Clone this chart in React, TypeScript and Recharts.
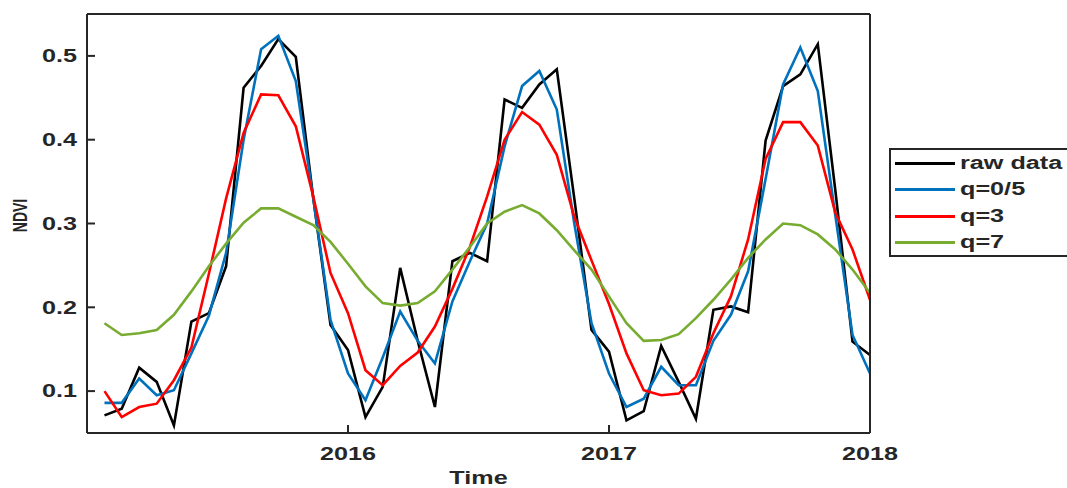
import { LineChart, Line, XAxis, YAxis, Label } from 'recharts'

// time in decimal years, one sample every 1/15 year
const times = [
  2015.067, 2015.133, 2015.2, 2015.267, 2015.333, 2015.4, 2015.467, 2015.533, 2015.6, 2015.667,
  2015.733, 2015.8, 2015.867, 2015.933, 2016.0, 2016.067, 2016.133, 2016.2, 2016.267, 2016.333,
  2016.4, 2016.467, 2016.533, 2016.6, 2016.667, 2016.733, 2016.8, 2016.867, 2016.933, 2017.0,
  2017.067, 2017.133, 2017.2, 2017.267, 2017.333, 2017.4, 2017.467, 2017.533, 2017.6, 2017.667,
  2017.733, 2017.8, 2017.867, 2017.933, 2018.0,
]

const rawData = [
  0.071, 0.079, 0.128, 0.111, 0.059, 0.183, 0.193, 0.249, 0.462, 0.488,
  0.52, 0.499, 0.33, 0.179, 0.149, 0.069, 0.105, 0.247, 0.16, 0.081,
  0.255, 0.265, 0.255, 0.448, 0.438, 0.466, 0.484, 0.33, 0.173, 0.147,
  0.065, 0.076, 0.154, 0.111, 0.067, 0.197, 0.201, 0.194, 0.399, 0.464,
  0.478, 0.514, 0.34, 0.159, 0.143,
]

const q05 = [
  0.086, 0.086, 0.115, 0.095, 0.101, 0.145, 0.19, 0.265, 0.4, 0.508,
  0.524, 0.47, 0.33, 0.185, 0.121, 0.089, 0.14, 0.195, 0.16, 0.133,
  0.207, 0.255, 0.3, 0.392, 0.464, 0.482, 0.436, 0.3, 0.181, 0.121,
  0.081, 0.091, 0.129, 0.107, 0.107, 0.16, 0.191, 0.243, 0.353, 0.466,
  0.51, 0.458, 0.31, 0.167, 0.121,
]

const q3 = [
  0.1, 0.069, 0.081, 0.085, 0.113, 0.152, 0.24, 0.33, 0.408, 0.454,
  0.453, 0.416, 0.332, 0.241, 0.193, 0.125, 0.107, 0.13, 0.146, 0.177,
  0.222, 0.272, 0.332, 0.4, 0.433, 0.418, 0.382, 0.308, 0.256, 0.204,
  0.145, 0.101, 0.095, 0.097, 0.117, 0.169, 0.213, 0.281, 0.377, 0.421,
  0.421, 0.393, 0.313, 0.269, 0.209,
]

const q7 = [
  0.181, 0.167, 0.169, 0.173, 0.191, 0.219, 0.249, 0.276, 0.301, 0.318,
  0.318, 0.308, 0.298, 0.278, 0.252, 0.225, 0.205, 0.202, 0.205, 0.219,
  0.245, 0.272, 0.3, 0.314, 0.322, 0.312, 0.292, 0.268, 0.245, 0.213,
  0.181, 0.16, 0.161, 0.168, 0.187, 0.209, 0.233, 0.259, 0.281, 0.3,
  0.298, 0.287, 0.269, 0.245, 0.217,
]

const xTicks = [2016, 2017, 2018]
const yTicks = [0.1, 0.2, 0.3, 0.4, 0.5]

const series = [
  { key: 'raw', name: 'raw data', color: '#000000' },
  { key: 'q05', name: 'q=0/5', color: '#0072BD' },
  { key: 'q3', name: 'q=3', color: '#FF0000' },
  { key: 'q7', name: 'q=7', color: '#77AC30' },
]

const data = times.map((t, i) => ({ t, raw: rawData[i], q05: q05[i], q3: q3[i], q7: q7[i] }))

const FONT = '"Liberation Sans", Arial, Helvetica, sans-serif'
const AXIS = '#262626'
const STRETCH = 1.4

function YTick(props: any) {
  const { x, y, payload } = props
  return (
    <text transform={`translate(${x},${y}) scale(${STRETCH},1)`} textAnchor="end" dy="0.35em"
      fontSize={18} fontWeight="bold" fill={AXIS} fontFamily={FONT}>
      {payload.value}
    </text>
  )
}

function XTick(props: any) {
  const { x, y, payload } = props
  return (
    <text transform={`translate(${x},${y}) scale(${STRETCH},1)`} textAnchor="middle" dy="0.72em"
      fontSize={18} fontWeight="bold" fill={AXIS} fontFamily={FONT}>
      {payload.value}
    </text>
  )
}

function TimeLabel(props: any) {
  const vb = props.viewBox
  return (
    <text transform={`translate(${vb.x + vb.width / 2},${vb.y + 51}) scale(${STRETCH},1)`} textAnchor="middle"
      fontSize={18} fontWeight="bold" fill={AXIS} fontFamily={FONT}>
      Time
    </text>
  )
}

function NdviLabel(props: any) {
  const vb = props.viewBox
  return (
    <text transform={`translate(27,${vb.y + vb.height / 2 - 8}) scale(${STRETCH},1) rotate(-90)`} textAnchor="middle"
      fontSize={14} fontWeight="bold" fill={AXIS} fontFamily={FONT}>
      NDVI
    </text>
  )
}

function LegendBox() {
  return (
    <div style={{
      position: 'absolute', left: 889, top: 148, width: 190, height: 105,
      border: `2px solid ${AXIS}`, background: '#fff', fontFamily: FONT,
    }}>
      {series.map((s) => (
        <div key={s.key} style={{ position: 'relative', height: 26.4 }}>
          <div style={{ position: 'absolute', left: 4, top: 12, width: 60, height: 3, background: s.color }} />
          <span style={{
            position: 'absolute', left: 69, top: 0, lineHeight: '26.4px', fontSize: 18, fontWeight: 'bold',
            color: AXIS, whiteSpace: 'nowrap', transform: `scaleX(${STRETCH})`, transformOrigin: 'left center',
          }}>{s.name}</span>
        </div>
      ))}
    </div>
  )
}

export default function App() {
  return (
    <div style={{ position: 'fixed', left: 0, top: 0, width: 1067, height: 488, background: '#fff', overflow: 'hidden' }}>
      <LineChart width={1067} height={488} data={data} margin={{ top: 13, right: 196, bottom: 0, left: 0 }}>
        <XAxis dataKey="t" type="number" domain={[2015, 2018]} ticks={xTicks} height={55}
          axisLine={{ stroke: AXIS, strokeWidth: 2 }} tickLine={{ stroke: AXIS, strokeWidth: 2 }}
          tickSize={-8} tickMargin={22} tick={<XTick />}>
          <Label content={<TimeLabel />} />
        </XAxis>
        <XAxis xAxisId="top" orientation="top" dataKey="t" type="number" domain={[2015, 2018]} ticks={xTicks} height={1}
          axisLine={{ stroke: AXIS, strokeWidth: 2 }} tickLine={{ stroke: AXIS, strokeWidth: 2 }}
          tickSize={-8} tick={false} />
        <YAxis type="number" domain={[0.05, 0.55]} ticks={yTicks} width={87}
          axisLine={{ stroke: AXIS, strokeWidth: 2 }} tickLine={{ stroke: AXIS, strokeWidth: 2 }}
          tickSize={-8} tickMargin={18} tick={<YTick />}>
          <Label content={<NdviLabel />} />
        </YAxis>
        <YAxis yAxisId="right" orientation="right" type="number" domain={[0.05, 0.55]} ticks={yTicks} width={1}
          axisLine={{ stroke: AXIS, strokeWidth: 2 }} tickLine={{ stroke: AXIS, strokeWidth: 2 }}
          tickSize={-8} tick={false} />
        {series.map((s) => (
          <Line key={s.key} type="linear" dataKey={s.key} name={s.name} stroke={s.color} strokeWidth={2.6}
            dot={false} activeDot={false} isAnimationActive={false} />
        ))}
      </LineChart>
      <LegendBox />
    </div>
  )
}
